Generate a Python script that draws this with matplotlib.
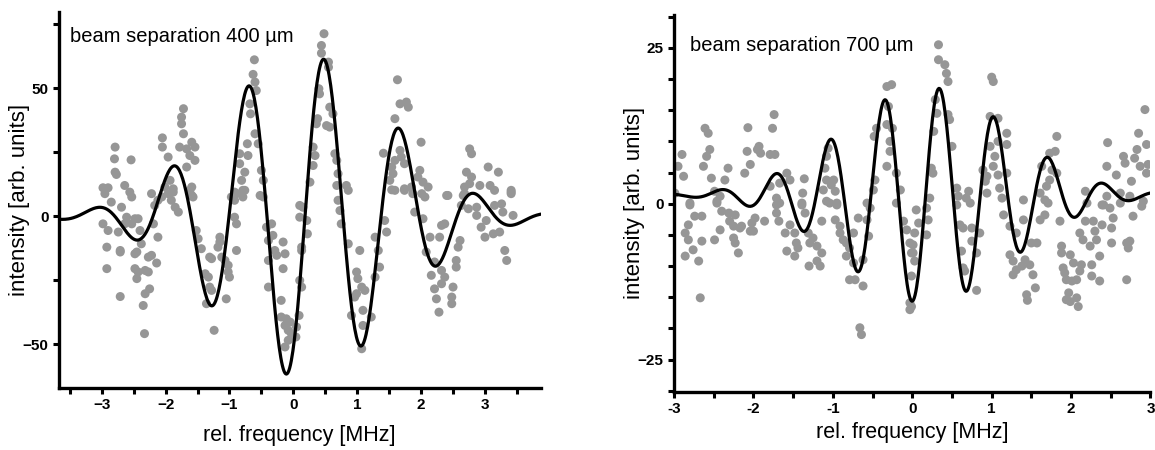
import numpy as np
import matplotlib
matplotlib.use("Agg")
import matplotlib.pyplot as plt
from matplotlib.ticker import MultipleLocator

plt.rcParams['font.family'] = ['Liberation Sans', 'DejaVu Sans']

# measured points (rel. frequency [MHz], intensity [arb. units])
left_points = [
    (-2.79, 27.1), (-2.80, 22.5), (-2.54, 22.1), (-2.79, 17.3), (-2.77, 16.4), (-2.98, 11.2),
    (-2.90, 11.2), (-2.64, 12.1), (-2.56, 9.5), (-2.53, 7.6), (-2.05, 30.7), (-2.05, 27.1),
    (-1.96, 23.2), (-1.72, 42.1), (-1.75, 38.8), (-1.75, 36.2), (-1.72, 32.3), (-1.78, 27.1),
    (-1.67, 26.4), (-1.59, 29.0), (-1.54, 27.1), (-1.62, 23.8), (-1.67, 19.3), (-1.54, 21.9),
    (-1.93, 14.1), (-2.01, 11.5), (-1.88, 10.8), (-2.22, 8.9), (-2.12, 6.3), (-1.59, 11.5),
    (-1.57, 7.6), (-0.61, 61.2), (-0.63, 55.5), (-0.60, 52.5), (-0.58, 49.2), (-0.68, 44.0),
    (-0.67, 40.1), (-0.60, 32.3), (-0.55, 28.4), (-0.72, 28.4), (-0.84, 24.5), (-0.71, 23.8),
    (-0.84, 20.6), (-0.76, 17.3), (-0.81, 14.1), (-0.89, 8.9), (-0.79, 10.2), (-0.50, 18.0),
    (-0.47, 14.1), (-0.47, 7.6), (-0.92, 6.3),
    (0.48, 71.4), (0.44, 66.8), (0.44, 63.8), (0.55, 60.3), (0.55, 58.3), (0.40, 49.9),
    (0.41, 47.9), (0.57, 42.7), (0.62, 40.1), (0.38, 38.2), (0.36, 36.2), (0.52, 35.5),
    (0.57, 34.9), (0.31, 27.1), (0.34, 23.8), (0.31, 19.9), (0.65, 24.5), (0.68, 21.9),
    (0.70, 16.7), (0.26, 13.4), (0.68, 12.1), (0.83, 12.1), (0.86, 10.2), (1.63, 53.4),
    (1.67, 44.0), (1.77, 44.7), (1.80, 42.7), (1.59, 38.2), (2.00, 29.0), (1.41, 24.7),
    (1.67, 25.8), (1.69, 23.2), (1.74, 20.6), (1.59, 21.9), (1.54, 19.3), (1.56, 16.7),
    (1.51, 14.1), (1.98, 18.0), (1.95, 15.4), (2.03, 13.4), (2.11, 11.5), (1.54, 10.4),
    (1.74, 10.8), (1.85, 11.5), (2.01, 8.9), (2.76, 26.4), (2.79, 24.5), (3.05, 19.3),
    (3.21, 17.3), (2.71, 17.3), (2.79, 15.4), (2.76, 12.8), (2.68, 11.5), (2.92, 12.1),
    (3.08, 12.1), (3.15, 10.2), (3.41, 10.2), (3.41, 8.9), (2.40, 8.2), (2.66, 8.2),
    (-2.95, 8.9), (-2.85, 5.6), (-2.69, 3.6), (-2.61, -0.3), (-2.53, -2.9), (-2.64, -2.9),
    (-2.48, -0.9), (-2.43, -0.9), (-2.98, -2.9), (-2.90, -5.5), (-2.74, -6.1), (-2.40, -5.5),
    (-2.38, -10.7), (-2.45, -13.9), (-2.48, -14.6), (-2.92, -12.0), (-2.71, -13.3), (-2.71, -13.9),
    (-2.92, -20.4), (-2.48, -20.4), (-2.43, -21.7), (-2.45, -24.3), (-2.27, -21.7), (-2.32, -21.1),
    (-2.27, -15.9), (-2.22, -15.2), (-2.14, -18.2), (-2.71, -31.3), (-2.25, -28.3), (-2.32, -30.2),
    (-2.35, -34.8), (-2.33, -45.8), (-2.12, -8.1), (-2.19, -2.9), (-2.17, 4.3), (-2.06, 7.6),
    (-1.91, 6.3), (-1.85, 3.6), (-1.80, 1.7), (-1.96, 8.9), (-1.88, 9.5), (-1.59, 8.2),
    (-1.62, 10.2), (-1.52, -5.5), (-1.49, -8.7), (-1.44, -12.6), (-1.31, -15.9), (-1.28, -16.5),
    (-1.38, -22.4), (-1.33, -23.7), (-1.31, -27.6), (-1.28, -28.9), (-1.36, -34.1), (-1.24, -44.5),
    (-1.15, -8.1), (-1.15, -10.0), (-1.18, -12.0), (-1.12, -15.9), (-1.07, -17.2), (-1.02, -19.1),
    (-1.02, -21.7), (-1.00, -23.7), (-1.05, -32.2), (-0.89, -13.3), (-0.89, -2.9), (-0.92, -0.3),
    (-0.97, 7.6), (-0.92, 9.5), (-0.79, 7.6), (-0.76, 10.2), (-0.52, 8.2), (-0.42, -4.2),
    (-0.39, -9.4), (-0.34, -2.9), (-0.32, -7.4), (-0.39, -17.2), (-0.29, -13.3), (-0.26, -15.2),
    (-0.16, -10.0), (-0.13, -14.6), (-0.16, -20.4), (-0.39, -27.6), (-0.19, -32.8), (-0.19, -39.3),
    (-0.11, -40.0), (-0.05, -41.3), (-0.13, -42.6), (-0.08, -44.5), (-0.03, -45.8), (-0.08, -48.4),
    (-0.13, -51.0), (0.10, 4.3), (0.10, -0.3), (0.13, -13.3),
    (0.15, 3.6), (0.21, -1.6), (0.22, -6.8), (0.13, -12.0), (0.10, -25.0), (0.13, -27.6),
    (0.09, -38.7), (0.05, -43.2), (0.04, -47.1), (0.70, 6.3), (0.73, 2.3), (0.75, -2.9),
    (0.86, -10.7), (1.04, -13.3), (0.99, -21.7), (1.01, -24.3), (1.07, -27.6), (0.96, -31.5),
    (0.99, -30.2), (1.12, -28.9), (1.09, -36.7), (0.91, -38.7), (1.22, -39.3), (1.09, -42.6),
    (1.07, -51.7), (1.28, -8.1), (1.33, -13.3), (1.35, -19.8), (1.28, -23.7), (1.43, -1.6),
    (1.46, -6.1), (1.59, 10.2), (1.74, 10.2), (1.87, 8.9), (1.90, 1.7), (2.03, -0.9),
    (2.06, 7.6), (2.14, -8.1), (2.08, -13.9), (2.21, -17.8), (2.16, -23.0), (2.32, -21.1),
    (2.37, -23.7), (2.32, -26.3), (2.21, -28.3), (2.50, -27.6), (2.48, -31.5), (2.24, -32.2),
    (2.48, -34.1), (2.28, -37.4), (2.32, -3.5), (2.37, -2.9), (2.29, -8.1), (2.42, 8.2),
    (2.61, -9.4), (2.58, -12.0), (2.55, -17.2), (2.55, -19.8), (2.63, 4.3), (2.68, 8.9),
    (2.74, 3.0), (2.87, 3.6), (2.87, 0.4), (2.94, -4.2), (3.02, -1.6), (3.00, -8.1),
    (3.13, -6.8), (3.23, -6.1), (3.15, 4.3), (3.26, 4.9), (3.28, 1.7), (3.44, 0.4),
    (3.31, -13.3), (3.34, -17.2), (3.41, 9.5),
]

right_points = [
    (-2.90, 7.9), (-2.95, 6.0), (-2.88, 4.4), (-2.99, 1.7), (-2.80, 0.1), (-2.61, 12.1),
    (-2.57, 11.3), (-2.55, 8.7), (-2.59, 7.6), (-2.63, 6.0), (-2.53, 4.1), (-2.49, 2.0),
    (-2.42, 1.2), (-2.46, 0.4), (-2.32, 5.7), (-2.36, 3.8), (-2.07, 12.2), (-2.08, 8.4),
    (-2.04, 6.3), (-2.11, 4.9), (-1.93, 9.2), (-1.91, 8.1), (-1.95, 8.7), (-1.79, 7.9),
    (-1.73, 7.9), (-1.76, 12.1), (-1.74, 14.3), (-1.79, 2.8), (-1.67, 3.3), (-1.58, 4.9),
    (-1.54, 3.8), (-1.71, 0.9), (-1.67, 0.1), (-1.36, 4.0), (-1.38, 1.7), (-1.39, 0.1),
    (-1.08, 7.6), (-1.06, 8.9), (-1.10, 5.7), (-1.08, 3.8), (-0.99, 3.8), (-1.02, 3.0),
    (-1.12, 2.2), (-0.97, 2.0), (-1.08, 0.4), (-0.95, 0.1), (-0.48, 10.8), (-0.45, 12.1),
    (-0.32, 18.8), (-0.26, 19.1), (-0.30, 15.6), (-0.32, 12.7), (-0.25, 12.1), (-0.28, 10.0),
    (-0.28, 8.4), (-0.32, 6.0), (-0.47, 3.8), (-0.49, 2.2), (-0.20, 4.9), (-0.15, 2.2),
    (-0.57, 0.1),
    (0.33, 25.5), (0.33, 23.1), (0.41, 22.3), (0.43, 20.9), (0.45, 19.6), (0.29, 16.7),
    (0.31, 14.5), (0.45, 14.3), (0.47, 13.5), (0.27, 11.6), (0.50, 9.2), (0.24, 5.7),
    (0.26, 4.9), (0.56, 2.5), (0.58, 1.2), (0.22, 0.9), (1.00, 20.3), (1.02, 19.6),
    (0.98, 14.0), (1.08, 13.7), (1.19, 11.3), (0.98, 9.2), (1.08, 10.0), (1.19, 9.5),
    (1.04, 7.6), (1.02, 6.0), (0.89, 5.4), (0.94, 4.4), (1.08, 4.6), (1.19, 4.9),
    (0.92, 3.6), (0.94, 1.7), (1.10, 2.5), (1.13, 0.9), (0.71, 2.0), (0.68, 0.9),
    (1.40, 0.6), (1.82, 10.8), (1.80, 8.4), (1.73, 8.1), (1.63, 6.0), (1.76, 5.4),
    (1.82, 4.9), (1.73, 3.8), (1.69, 2.8), (1.61, 1.7), (1.67, 0.6), (2.18, 2.0),
    (2.20, 0.1), (2.46, 9.8), (2.45, 6.0), (2.57, 4.6), (2.66, 7.6), (2.68, 6.5),
    (2.76, 3.6), (2.85, 11.3), (2.83, 8.7), (2.80, 7.3), (2.87, 6.0), (2.95, 9.5),
    (2.93, 15.1), (2.97, 6.3), (2.95, 4.9), (2.45, 1.2), (2.62, 1.7), (2.74, 1.2),
    (2.91, 0.4), (2.39, -0.2),
    (-2.80, -0.2), (-2.74, -2.0), (-2.65, -2.0), (-2.82, -3.4), (-2.86, -4.7), (-2.82, -5.8),
    (-2.76, -7.4), (-2.65, -6.0), (-2.86, -8.4), (-2.69, -9.2), (-2.67, -15.1), (-2.46, 0.1),
    (-2.40, -1.2), (-2.31, -1.5), (-2.23, -1.8), (-2.30, -2.8), (-2.25, -3.6), (-2.17, -3.9),
    (-2.42, -4.2), (-2.49, -5.8), (-2.25, -5.5), (-2.23, -6.3), (-2.19, -7.9), (-2.15, -3.6),
    (-2.04, -4.4), (-2.00, -4.4), (-2.02, -3.1), (-1.98, -2.3), (-1.86, -2.8), (-1.71, -0.2),
    (-1.71, -1.5), (-1.68, -2.8), (-1.60, -4.7), (-1.54, -3.4), (-1.48, -4.7), (-1.58, -7.6),
    (-1.48, -8.4), (-1.46, -6.3), (-1.44, -7.1), (-1.39, -0.2), (-1.35, -1.5), (-1.31, -4.7),
    (-1.25, -5.5), (-1.29, -6.3), (-1.20, -6.8), (-1.14, -2.8), (-1.14, -7.9), (-1.20, -9.2),
    (-1.30, -10.0), (-1.16, -10.0), (-1.04, 0.1), (-0.95, -0.2), (-0.97, -2.6), (-0.91, -3.6),
    (-0.91, -4.7), (-0.87, -5.8), (-0.83, -6.3), (-0.74, -4.7), (-0.68, -2.3), (-0.79, -7.1),
    (-0.83, -8.4), (-0.74, -9.5), (-0.62, -9.0), (-0.79, -12.2), (-0.72, -12.2), (-0.62, -13.2),
    (-0.66, -19.9), (-0.64, -21.0), (-0.55, -5.2), (-0.53, -0.7), (-0.57, -2.6), (-0.20, 0.1),
    (-0.11, -2.8), (-0.07, -4.2), (-0.03, -6.3), (-0.01, -7.9), (-0.03, -15.9), (-0.03, -17.0),
    (0.05, -1.0), (0.08, -3.1), (0.03, -4.7), (0.01, -6.6), (0.01, -7.9), (0.03, -9.2),
    (0.18, -0.7), (0.20, -2.6), (0.18, -5.0), (-0.01, -11.6), (-0.01, -16.5), (0.56, -0.2),
    (0.60, -3.4), (0.64, -3.9), (0.75, -3.9), (0.75, -6.0), (0.62, -7.6), (0.64, -10.3),
    (0.66, -10.8), (0.81, -7.9), (0.85, -4.7), (0.73, 0.1), (0.81, -13.9), (1.15, -1.8),
    (1.23, -3.6), (1.31, -4.7), (1.40, -2.6), (1.23, -8.2), (1.27, -9.2), (1.31, -10.6),
    (1.42, -9.0), (1.48, -9.8), (1.52, -11.4), (1.38, -10.0), (1.55, -13.5), (1.44, -14.6),
    (1.45, -15.5), (1.27, -11.4), (1.50, -6.3), (1.57, -6.3), (1.61, -2.6), (1.67, -1.8),
    (1.71, 0.1), (1.86, -2.8), (1.88, -6.8), (1.88, -7.9), (1.90, -10.3), (1.92, -11.1),
    (1.99, -8.2), (2.03, -9.5), (2.01, -12.4), (1.94, -12.2), (2.07, -12.2), (2.13, -9.8),
    (2.11, -10.8), (1.97, -14.3), (1.99, -15.7), (2.09, -16.5), (2.07, -15.1), (1.94, -15.4),
    (2.11, -4.7), (2.15, -5.8), (2.18, -2.8), (2.28, -2.8), (2.24, -6.8), (2.30, -4.4),
    (2.32, -5.8), (2.26, -11.6), (2.36, -12.4), (2.26, -9.8), (2.36, -8.4), (2.39, -3.4),
    (2.41, -0.2), (2.49, -0.7), (2.51, -3.9), (2.53, -2.3), (2.51, -6.3), (2.62, 0.1),
    (2.70, -6.3), (2.72, -7.1), (2.74, -6.0), (2.70, -12.2), (2.78, -2.0), (2.89, -0.4),
]

# fit parameters (gaussian envelope x cosine fringe)
left_fit = dict(amp=63.0, center=0.175, sigma=1.35, period=1.19, peak=0.48, offset=0.0)
right_fit = dict(amp=17.3, center=0.18, sigma=1.054, period=0.688, peak=0.34, offset=1.4)

left_title = "beam separation 400 \u00b5m"
right_title = "beam separation 700 \u00b5m"


def fringe(x, amp, center, sigma, period, peak, offset):
    env = np.exp(-(x - center) ** 2 / (2 * sigma ** 2))
    return offset + amp * env * np.cos(2 * np.pi * (x - peak) / period)


def style_axes(ax):
    for s in ["top", "right"]:
        ax.spines[s].set_visible(False)
    for s in ["left", "bottom"]:
        ax.spines[s].set_linewidth(2.4)
    ax.tick_params(which="both", direction="out", width=2.2, length=4, labelsize=11)
    for lab in ax.get_xticklabels() + ax.get_yticklabels():
        lab.set_fontweight("bold")
    ax.set_xlabel("rel. frequency [MHz]", fontsize=15.5, labelpad=9)
    ax.set_ylabel("intensity [arb. units]", fontsize=16)
    # label coords = right edge of the rotated label
    ax.yaxis.set_label_coords(-0.06, 0.5)


fig = plt.figure(figsize=(11.55, 4.5), dpi=100)
ax1 = fig.add_axes([0.051, 0.138, 0.417, 0.836])
ax2 = fig.add_axes([0.5836, 0.129, 0.4125, 0.838])

# left panel
pts = np.array(left_points)
ax1.scatter(pts[:, 0], pts[:, 1], s=42, color="#969696", edgecolors="none", zorder=2)
xx = np.linspace(-3.67, 3.87, 600)
ax1.plot(xx, fringe(xx, **left_fit), color="black", lw=2.3, zorder=3)
ax1.set_xlim(-3.67, 3.87)
ax1.set_ylim(-67, 80)
ax1.xaxis.set_major_locator(MultipleLocator(1))
ax1.xaxis.set_minor_locator(MultipleLocator(0.5))
ax1.yaxis.set_major_locator(MultipleLocator(50))
ax1.yaxis.set_minor_locator(MultipleLocator(25))
ax1.text(0.023, 0.935, left_title, transform=ax1.transAxes, fontsize=14.5, va="center")
style_axes(ax1)

# right panel
pts = np.array(right_points)
ax2.scatter(pts[:, 0], pts[:, 1], s=42, color="#969696", edgecolors="none", zorder=2)
xx = np.linspace(-3, 3, 600)
ax2.plot(xx, fringe(xx, **right_fit), color="black", lw=2.3, zorder=3)
ax2.set_xlim(-3, 3)
ax2.set_ylim(-30.2, 30.3)
ax2.xaxis.set_major_locator(MultipleLocator(1))
ax2.xaxis.set_minor_locator(MultipleLocator(0.5))
ax2.yaxis.set_major_locator(MultipleLocator(25))
ax2.yaxis.set_minor_locator(MultipleLocator(5))
ax2.text(0.034, 0.92, right_title, transform=ax2.transAxes, fontsize=14.5, va="center")
style_axes(ax2)
ax2.set_xticks(np.arange(-3, 4, 1))
ax2.set_xticklabels([str(v) for v in range(-3, 4)], fontweight="bold")
ax2.xaxis.labelpad = 4

fig.savefig("out.png", dpi=100)
